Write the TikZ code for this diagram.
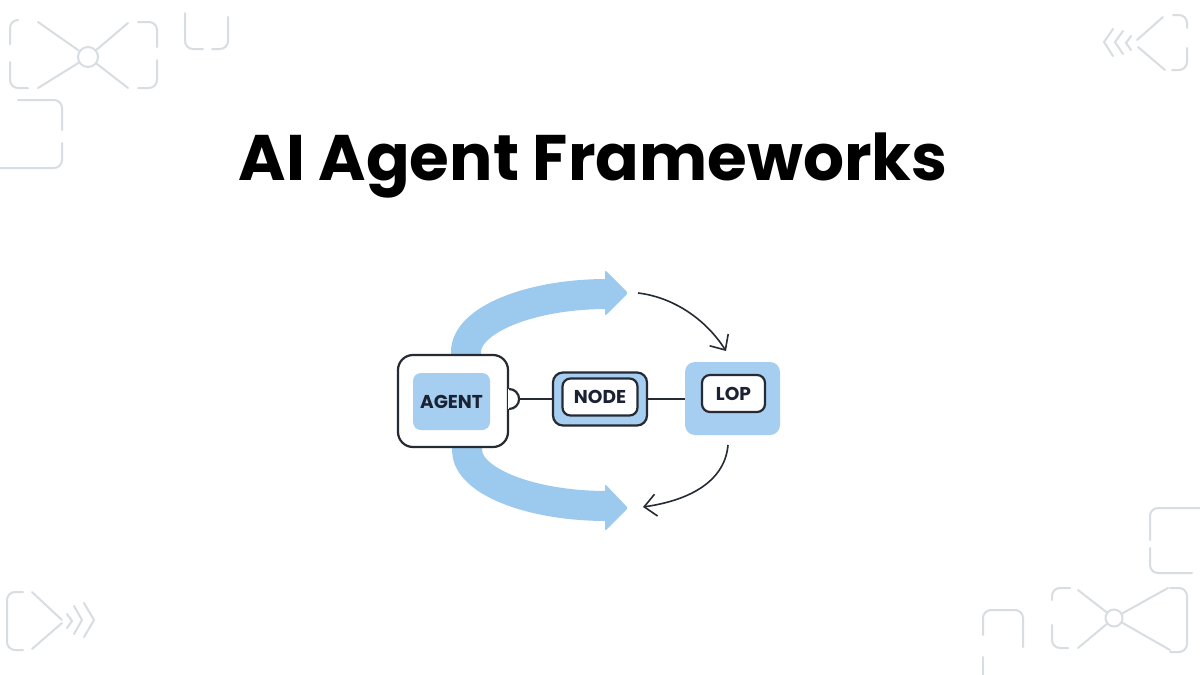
\documentclass[tikz,border=0pt]{standalone}
\usepackage{fontspec}
\setmainfont{Poppins}
\usetikzlibrary{arrows.meta,calc}
\definecolor{bandblue}{HTML}{9CC9EE}
\definecolor{boxblue}{HTML}{A5CEF0}
\definecolor{ink}{HTML}{262B33}
\definecolor{labelink}{HTML}{1A2233}
\definecolor{decogray}{HTML}{D8DDE1}
\begin{document}
\begin{tikzpicture}[x=0.5pt,y=-0.5pt,
  decoline/.style={draw=decogray,line width=1pt,rounded corners=4pt,line cap=round},
  hub/.style={circle,draw=decogray,line width=1pt,minimum size=#1,inner sep=0pt},
  band/.style={draw=bandblue,line width=15pt},
  bandhead/.style={fill=bandblue,rounded corners=1pt},
  inkline/.style={draw=ink,line width=1.1pt},
  thinarrow/.style={draw=ink,line width=0.8pt,-{Straight Barb[length=6pt,width=11pt,line width=0.8pt]}},
  lbl/.style={font=\fontsize{9.3}{10}\selectfont\bfseries,text=labelink,inner sep=0pt}]
\useasboundingbox (0,0) rectangle (1200,675);
\fill[white] (0,0) rectangle (1200,675);

% ---------- decorations: top-left ----------
\node[hub=10pt] (hubA) at (88,57) {};
\draw[decoline] (18,20) -| (10,44);
\draw[decoline] (10,62) |- (28,88);
\draw[decoline] (38,22) -- (hubA);
\draw[decoline] (38,88) -- (hubA);
\draw[decoline] (128,23) -- (hubA);
\draw[decoline] (128,88) -- (hubA);
\draw[decoline] (138,22) -| (157,47);
\draw[decoline] (157,60) |- (138,88);
\draw[decoline] (185,13) |- (203,49);
\draw[decoline] (212,49) -| (228,17);
\draw[decoline] (18,100) -| (62,130);
\draw[decoline] (62,143) |- (0,168);

% ---------- decorations: top-right ----------
\draw[decoline] (1173,15) -| (1187,28);
\draw[decoline] (1187,48) |- (1172,70);
\draw[decoline] (1163,17) -- (1137,40);
\draw[decoline] (1138,47) -- (1165,70);
\draw[decoline,rounded corners=0pt] (1113,29) -- (1104,42) -- (1113,56);
\draw[decoline,rounded corners=0pt] (1123,31) -- (1115,42) -- (1123,54);
\draw[decoline,rounded corners=0pt] (1131,36) -- (1126,43) -- (1131,50);

% ---------- decorations: bottom-left ----------
\draw[decoline] (23,592) -| (7,620) |- (23,650);
\draw[decoline] (32,592) -- (62,620);
\draw[decoline] (62,623) -- (32,649);
\draw[decoline,rounded corners=0pt] (67,614) -- (72,621) -- (67,628);
\draw[decoline,rounded corners=0pt] (74,606) -- (82,620) -- (74,634);
\draw[decoline,rounded corners=0pt] (84,603) -- (94,620) -- (84,637);

% ---------- decorations: bottom-right ----------
\draw[decoline] (1200,508) -| (1150,540);
\draw[decoline] (1150,548) |- (1192,573);
\node[hub=8.5pt] (hubB) at (1114,618) {};
\draw[decoline] (1070,588) -| (1052,600);
\draw[decoline] (1052,625) |- (1068,648);
\draw[decoline] (1078,590) -- (hubB);
\draw[decoline] (1078,648) -- (hubB);
\draw[decoline] (1168,588) -- (hubB);
\draw[decoline] (1170,650) -- (hubB);
\draw[decoline] (1170,588) -| (1187,620) |- (1170,652);
\draw[decoline] (983,635) |- (1003,610) -| (1023,647);
\draw[decoline] (983,657) -- (983,675);

% ---------- title ----------
\node[anchor=base,inner sep=0pt,font=\fontsize{32.2}{38}\selectfont\bfseries] (title) at (593,180) {AI Agent Frameworks};

% ---------- blue bands ----------
\draw[band] (466,375) -- (466,352) .. controls (466,320) and (530,294) .. (607,294);
\fill[bandhead] (605,270) -- (628,293) -- (605,316) -- cycle;
\draw[band] (467,425) -- (467,450) .. controls (467,481) and (530,506) .. (607,506);
\fill[bandhead] (605,484) -- (628,508) -- (605,531) -- cycle;

% ---------- boxes ----------
\node[inkline,fill=white,rounded corners=7.5pt,minimum width=55pt,minimum height=46pt] (agentbox) at (453,401) {};
\coordinate (bumpc) at (agentbox.east |- 0,399);
\fill[white] ($(bumpc)+(-1.5,-10)$) rectangle ($(bumpc)+(1.5,10)$);
\draw[inkline] ($(bumpc)+(0,-10)$) arc[start angle=-90,end angle=90,radius=10];
\coordinate (bumptip) at ($(bumpc)+(10,0)$);
\node[lbl,fill=boxblue,rounded corners=4pt,minimum width=38.5pt,minimum height=28.5pt] (agent) at (451.5,401.5) {AGENT};

\node[inkline,fill=boxblue,rounded corners=5pt,minimum width=47pt,minimum height=26.5pt] (nodebox) at (600,399) {};
\node[lbl,inkline,fill=white,rounded corners=4pt,minimum width=37.5pt,minimum height=18.5pt] (node) at (600,397) {NODE};

\node[fill=boxblue,rounded corners=5pt,minimum width=47.5pt,minimum height=36.5pt] (lopbox) at (732.5,398.5) {};
\node[lbl,inkline,fill=white,rounded corners=4pt,minimum width=31.5pt,minimum height=18.5pt] (lop) at (733.5,393.5) {LOP};

% ---------- connectors ----------
\draw[inkline] (bumptip) -- (bumptip -| nodebox.west);
\draw[inkline] (nodebox.east) -- (nodebox.east -| lopbox.west);

\coordinate (t1) at (638,293);
\coordinate (t2) at (726,351);
\draw[thinarrow] (t1) .. controls (672,297) and (705,318) .. (t2);
\coordinate (b1) at (728,445);
\coordinate (b2) at (643,507);
\draw[thinarrow] (b1) .. controls (725,480) and (692,500) .. (b2);
\end{tikzpicture}
\end{document}
